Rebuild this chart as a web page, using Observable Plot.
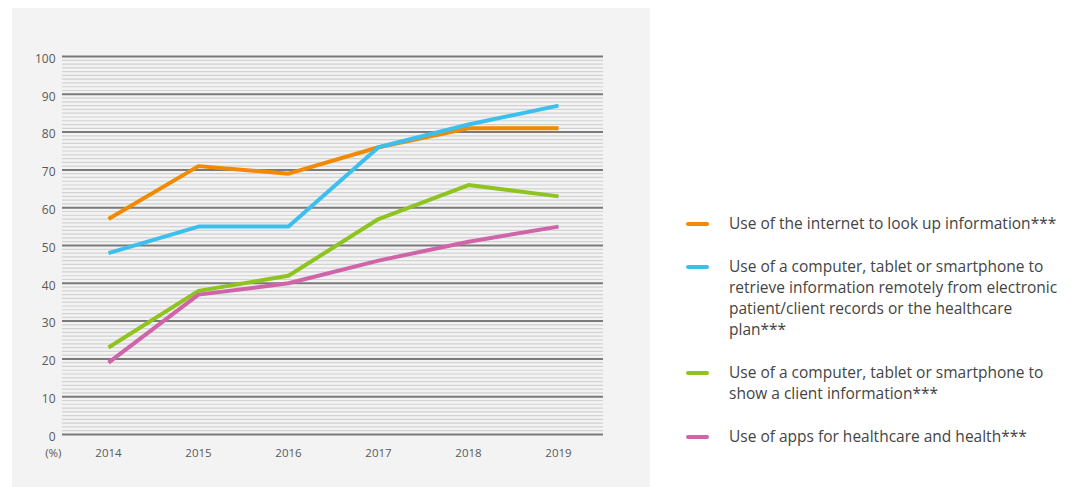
<!DOCTYPE html>
<html>
<head>
<meta charset="utf-8">
<script src="https://cdn.jsdelivr.net/npm/d3@7"></script>
<script src="https://cdn.jsdelivr.net/npm/@observablehq/plot@0.6"></script>
<style>
  html, body { margin: 0; padding: 0; background: #ffffff; }
  body { width: 1079px; height: 487px; position: relative; overflow: hidden; font-family: "Open Sans", sans-serif; }
  #panel { position: absolute; left: 12px; top: 8px; width: 638px; height: 479px; background: #f3f3f3; }
  #legend { position: absolute; left: 686px; top: 213px; width: 384px; color: #444; font-size: 15.5px; line-height: 21px; }
  .item { position: relative; padding-left: 43px; margin-bottom: 22px; }
  .sw { position: absolute; left: 0; top: 9px; width: 23px; height: 4px; border-radius: 2px; }
</style>
</head>
<body>
<div id="panel"></div>
<div id="legend"></div>
<script>
const years = [2014, 2015, 2016, 2017, 2018, 2019];
const seriesNames = [
  "Use of the internet to look up information***",
  "Use of a computer, tablet or smartphone to retrieve information remotely from electronic patient/client records or the healthcare plan***",
  "Use of a computer, tablet or smartphone to show a client information***",
  "Use of apps for healthcare and health***"
];
const internet = [57, 71, 69, 76, 81, 81];
const records = [48, 55, 55, 76, 82, 87];
const showClient = [23, 38, 42, 57, 66, 63];
const apps = [19, 37, 40, 46, 51, 55];
const colors = ["#f18a00", "#3dbfee", "#8fc31f", "#d064a8"];
const yTicks = [0, 10, 20, 30, 40, 50, 60, 70, 80, 90, 100];

const allValues = [internet, records, showClient, apps];
const data = [];
allValues.forEach((vals, i) => vals.forEach((v, j) => data.push({series: seriesNames[i], year: String(years[j]), value: v})));

const minor = d3.range(0, 101, 1).filter(v => v % 10 !== 0);

const chart = Plot.plot({
  width: 638,
  height: 479,
  marginLeft: 50,
  marginRight: 47,
  marginTop: 48,
  marginBottom: 53,
  style: { background: "transparent", fontFamily: "Open Sans, sans-serif", fontSize: "12px", color: "#595959" },
  x: { type: "point", domain: years.map(String), padding: 0.5 },
  y: { domain: [0, 100] },
  color: { domain: seriesNames, range: colors },
  marks: [
    Plot.ruleY(minor, { stroke: "#d2d2d2", strokeWidth: 1.2 }),
    Plot.ruleY(yTicks, { stroke: "#7a7a7a", strokeWidth: 2 }),
    Plot.axisY({ ticks: yTicks, tickSize: 0, tickPadding: 7, dy: 2.5, label: null, fontSize: 12, fill: "#595959" }),
    Plot.axisX({ tickSize: 0, tickPadding: 14, label: null, fontSize: 11.5, fill: "#595959" }),
    Plot.text(["(%)"], { frameAnchor: "bottom-left", lineAnchor: "middle", textAnchor: "end", dx: -1, dy: 18.5, fontSize: 11.5, fill: "#595959" }),
    Plot.line(data, { x: "year", y: "value", z: "series", stroke: "series", strokeWidth: 4, strokeLinejoin: "round", strokeLinecap: "butt" })
  ]
});
document.getElementById("panel").appendChild(chart);

const legend = document.getElementById("legend");
seriesNames.forEach((name, i) => {
  const item = document.createElement("div");
  item.className = "item";
  const sw = document.createElement("span");
  sw.className = "sw";
  sw.style.background = colors[i];
  item.appendChild(sw);
  item.appendChild(document.createTextNode(name));
  legend.appendChild(item);
});
</script>
</body>
</html>
